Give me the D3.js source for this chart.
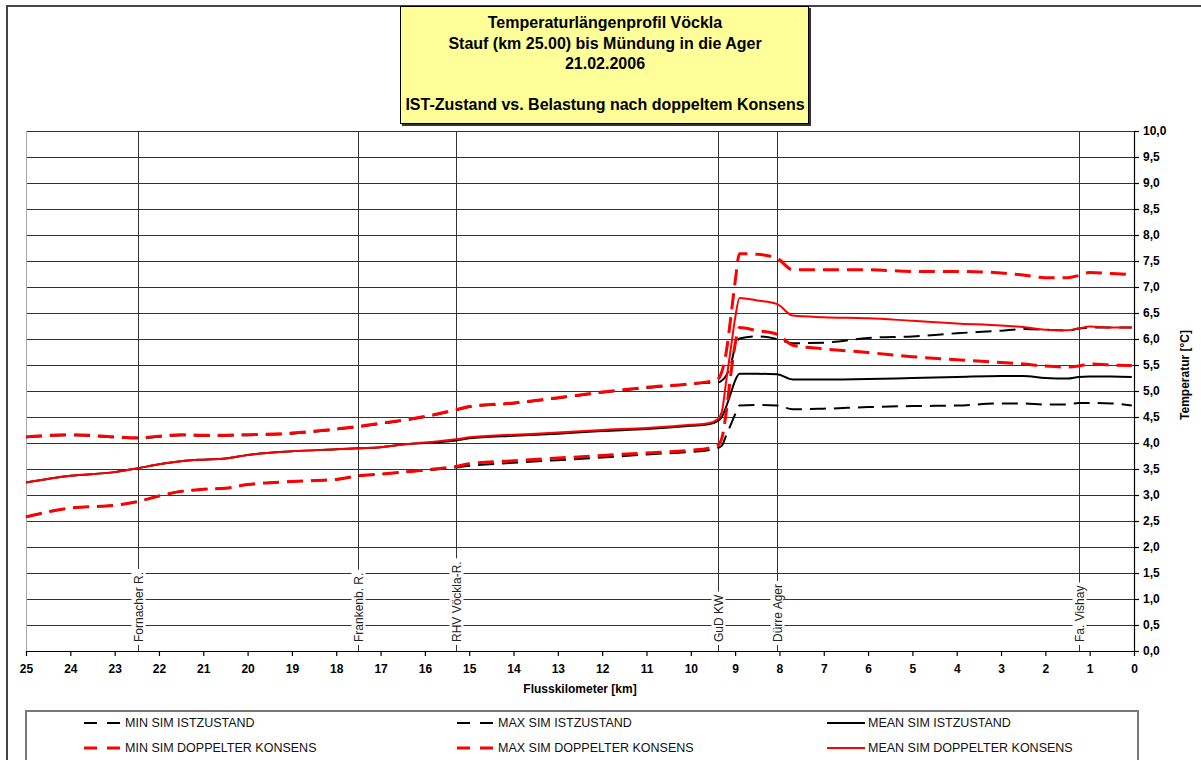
<!DOCTYPE html>
<html>
<head>
<meta charset="utf-8">
<script src="https://cdn.jsdelivr.net/npm/d3@7"></script>
<style>
  body { margin: 0; background: #fff; }
  svg { font-family: "Liberation Sans", Arial, sans-serif; }
</style>
</head>
<body>
<svg id="chart"></svg>
<script>
// river kilometre positions of the sampled points
const km = [25, 24, 23, 22.5, 22, 21.5, 21, 20.5, 20, 19, 18, 17.5, 17, 16.5, 16,
  15.3, 15, 14, 13, 12, 11, 10, 9.6, 9.4, 9.3, 9.2, 9.1, 9.0, 8.9, 8.5,
  8.05, 7.7, 7, 6, 5, 4, 3, 2.5, 2, 1.5, 1.25, 1, 0.5, 0.05];

const minIst = [2.58, 2.75, 2.80, 2.87, 2.98, 3.07, 3.11, 3.13, 3.20, 3.26, 3.30, 3.37, 3.40, 3.44, 3.47,
  3.53, 3.56, 3.62, 3.67, 3.72, 3.78, 3.83, 3.86, 3.90, 3.95, 4.15, 4.35, 4.55, 4.72, 4.73,
  4.72, 4.65, 4.66, 4.69, 4.71, 4.72, 4.76, 4.76, 4.74, 4.74, 4.77, 4.77, 4.76, 4.72];
const maxIst = [4.11, 4.15, 4.11, 4.09, 4.12, 4.15, 4.14, 4.14, 4.15, 4.18, 4.26, 4.31, 4.37, 4.43, 4.50,
  4.63, 4.69, 4.76, 4.86, 4.97, 5.06, 5.13, 5.16, 5.16, 5.20, 5.30, 5.50, 5.85, 6.01, 6.05,
  6.00, 5.92, 5.93, 6.02, 6.05, 6.11, 6.16, 6.19, 6.18, 6.16, 6.20, 6.22, 6.22, 6.22];
const meanIst = [3.24, 3.37, 3.44, 3.51, 3.59, 3.65, 3.68, 3.70, 3.77, 3.84, 3.88, 3.90, 3.92, 3.97, 4.00,
  4.05, 4.09, 4.14, 4.18, 4.23, 4.27, 4.33, 4.36, 4.42, 4.50, 4.70, 4.95, 5.20, 5.33, 5.33,
  5.32, 5.22, 5.22, 5.23, 5.25, 5.27, 5.29, 5.29, 5.25, 5.24, 5.27, 5.28, 5.28, 5.27];
const minDk = [2.58, 2.75, 2.80, 2.87, 2.98, 3.07, 3.11, 3.13, 3.20, 3.26, 3.30, 3.37, 3.40, 3.44, 3.48,
  3.55, 3.60, 3.66, 3.71, 3.76, 3.81, 3.86, 3.90, 3.95, 4.09, 4.60, 5.30, 5.90, 6.22, 6.16,
  6.09, 5.88, 5.81, 5.74, 5.66, 5.60, 5.55, 5.52, 5.48, 5.46, 5.48, 5.52, 5.50, 5.49];
const maxDk = [4.12, 4.16, 4.12, 4.10, 4.13, 4.16, 4.15, 4.15, 4.16, 4.19, 4.27, 4.32, 4.38, 4.44, 4.51,
  4.64, 4.70, 4.77, 4.87, 4.98, 5.07, 5.14, 5.18, 5.22, 5.37, 5.75, 6.40, 7.10, 7.64, 7.63,
  7.55, 7.33, 7.33, 7.33, 7.30, 7.30, 7.27, 7.23, 7.18, 7.18, 7.22, 7.28, 7.26, 7.24];
const meanDk = [3.24, 3.37, 3.44, 3.51, 3.59, 3.65, 3.68, 3.70, 3.77, 3.84, 3.88, 3.90, 3.92, 3.97, 4.01,
  4.07, 4.11, 4.16, 4.20, 4.25, 4.29, 4.35, 4.38, 4.45, 4.60, 5.20, 5.80, 6.40, 6.79, 6.74,
  6.67, 6.45, 6.42, 6.40, 6.35, 6.30, 6.26, 6.23, 6.18, 6.17, 6.20, 6.24, 6.22, 6.22];

const seriesNames = ["MIN SIM ISTZUSTAND", "MAX SIM ISTZUSTAND", "MEAN SIM ISTZUSTAND",
  "MIN SIM DOPPELTER KONSENS", "MAX SIM DOPPELTER KONSENS", "MEAN SIM DOPPELTER KONSENS"];

// landmarks along the river
const markerNames = ["Fornacher R.", "Frankenb. R.", "RHV Vöckla-R.", "GuD KW", "Dürre Ager", "Fa. Vishay"];
const markerKm = [22.47, 17.5, 15.3, 9.38, 8.05, 1.24];

const titleLines = ["Temperaturlängenprofil Vöckla", "Stauf (km 25.00) bis Mündung in die Ager",
  "21.02.2006", "", "IST-Zustand vs. Belastung nach doppeltem Konsens"];

const xTicks = d3.range(0, 26);
const yTicks = d3.range(0, 10.01, 0.5);

const width = 1201;
const height = 760;

const svg = d3.select("#chart").attr("width", width).attr("height", height);

const x = d3.scaleLinear().domain([25, 0]).range([26, 1134]);
const y = d3.scaleLinear().domain([0, 10]).range([651, 131]);

// outer frame (only left and top edges visible)
svg.append("path")
  .attr("d", "M7,760 L7,6 L1201,6")
  .attr("fill", "none")
  .attr("stroke", "#444")
  .attr("stroke-width", 2);

// horizontal grid
svg.append("g")
  .selectAll("line")
  .data(yTicks)
  .enter()
  .append("line")
  .attr("x1", x(25))
  .attr("x2", x(0))
  .attr("y1", (d) => Math.round(y(d)) + 0.5)
  .attr("y2", (d) => Math.round(y(d)) + 0.5)
  .attr("stroke", "#333")
  .attr("stroke-width", 1);

svg.append("line")
  .attr("x1", x(25) + 0.5).attr("x2", x(25) + 0.5)
  .attr("y1", y(10)).attr("y2", y(0))
  .attr("stroke", "#aaa");

// landmark lines
const markers = svg.append("g")
  .selectAll("g")
  .data(markerNames)
  .enter()
  .append("g");

markers.append("line")
  .attr("x1", (d, i) => Math.round(x(markerKm[i])) + 0.5)
  .attr("x2", (d, i) => Math.round(x(markerKm[i])) + 0.5)
  .attr("y1", y(10))
  .attr("y2", y(0))
  .attr("stroke", "#333")
  .attr("stroke-width", 1);

// series - same dash phase for black and red so the black hides under the red
const lineStyles = [
  { color: "#000", width: 2, dash: "16,8" },
  { color: "#000", width: 2, dash: "16,8" },
  { color: "#000", width: 2, dash: null },
  { color: "#ff0000", width: 3, dash: "16,8" },
  { color: "#ff0000", width: 3, dash: "16,8" },
  { color: "#ff0000", width: 2, dash: null },
];
const seriesValues = [minIst, maxIst, meanIst, minDk, maxDk, meanDk];

const line = d3.line()
  .x((d) => x(d[0]))
  .y((d) => y(d[1]))
  .curve(d3.curveMonotoneX);

svg.append("g")
  .selectAll("path")
  .data(seriesValues)
  .enter()
  .append("path")
  .attr("d", (vals) => line(km.map((k, i) => [k, vals[i]])))
  .attr("fill", "none")
  .attr("stroke", (d, i) => lineStyles[i].color)
  .attr("stroke-width", (d, i) => lineStyles[i].width)
  .attr("stroke-dasharray", (d, i) => lineStyles[i].dash);

// landmark labels with white background
markers.each(function (name, i) {
  const g = d3.select(this);
  const cx = Math.round(x(markerKm[i])) + 0.5;
  const t = g.append("text")
    .attr("transform", `translate(${cx},642) rotate(-90)`)
    .attr("dy", "0.35em")
    .attr("font-size", 12)
    .attr("fill", "#222")
    .text(name);
  const len = t.node().getComputedTextLength();
  g.insert("rect", "text")
    .attr("x", cx - 7)
    .attr("y", 642 - len - 3)
    .attr("width", 14)
    .attr("height", len + 6)
    .attr("fill", "#fff");
});

// axes
const xAxis = d3.axisBottom(x).tickValues(xTicks).tickSize(5).tickSizeOuter(0).tickPadding(8).tickFormat(d3.format("d"));
const yAxis = d3.axisRight(y).tickValues(yTicks).tickSize(5).tickSizeOuter(5).tickPadding(4)
  .tickFormat((d) => d3.format(".1f")(d).replace(".", ","));

const gx = svg.append("g")
  .attr("id", "x-axis")
  .attr("transform", "translate(0," + y(0) + ")")
  .call(xAxis);

const gy = svg.append("g")
  .attr("id", "y-axis")
  .attr("transform", "translate(" + x(0) + ",0)")
  .call(yAxis);

[gx, gy].forEach((g) => {
  g.selectAll("path, line").attr("stroke", "#000").attr("stroke-width", 1.2);
  g.selectAll("text")
    .attr("font-family", "'Liberation Sans', Arial, sans-serif")
    .attr("font-size", 12)
    .attr("font-weight", "bold")
    .attr("fill", "#000");
});

svg.append("text")
  .attr("x", 580)
  .attr("y", 693)
  .attr("text-anchor", "middle")
  .attr("font-size", 12)
  .attr("font-weight", "bold")
  .text("Flusskilometer [km]");

svg.append("text")
  .attr("transform", "translate(1185,375) rotate(-90)")
  .attr("dy", "0.35em")
  .attr("text-anchor", "middle")
  .attr("font-size", 12)
  .attr("font-weight", "bold")
  .text("Temperatur [°C]");

// title box
svg.append("rect")
  .attr("x", 402).attr("y", 8)
  .attr("width", 409).attr("height", 118)
  .attr("fill", "#333");
svg.append("rect")
  .attr("x", 400.5).attr("y", 6.5)
  .attr("width", 408).attr("height", 117)
  .attr("fill", "#ffff99")
  .attr("stroke", "#000");

svg.append("g")
  .selectAll("text")
  .data(titleLines)
  .enter()
  .append("text")
  .attr("x", 605)
  .attr("y", (d, i) => 28 + i * 20.6)
  .attr("text-anchor", "middle")
  .attr("font-size", 16)
  .attr("font-weight", "bold")
  .text((d) => d);

// legend
svg.append("rect")
  .attr("x", 26).attr("y", 711)
  .attr("width", 1112).attr("height", 70)
  .attr("fill", "#fff")
  .attr("stroke", "#777")
  .attr("stroke-width", 2);

const legendCols = [84, 457, 827];
const legendRows = [723, 748];

const legendItems = svg.append("g")
  .selectAll("g")
  .data(seriesNames)
  .enter()
  .append("g")
  .attr("transform", (d, i) => `translate(${legendCols[i % 3]},${legendRows[Math.floor(i / 3)]})`);

legendItems.append("line")
  .attr("x1", 0).attr("x2", 38)
  .attr("y1", 0).attr("y2", 0)
  .attr("stroke", (d, i) => lineStyles[i].color)
  .attr("stroke-width", (d, i) => lineStyles[i].width)
  .attr("stroke-dasharray", (d, i) => (lineStyles[i].dash ? "13,10" : null));

legendItems.append("text")
  .attr("x", 41)
  .attr("dy", "0.35em")
  .attr("font-size", 12.5)
  .attr("fill", "#111")
  .text((d) => d);
</script>
</body>
</html>
